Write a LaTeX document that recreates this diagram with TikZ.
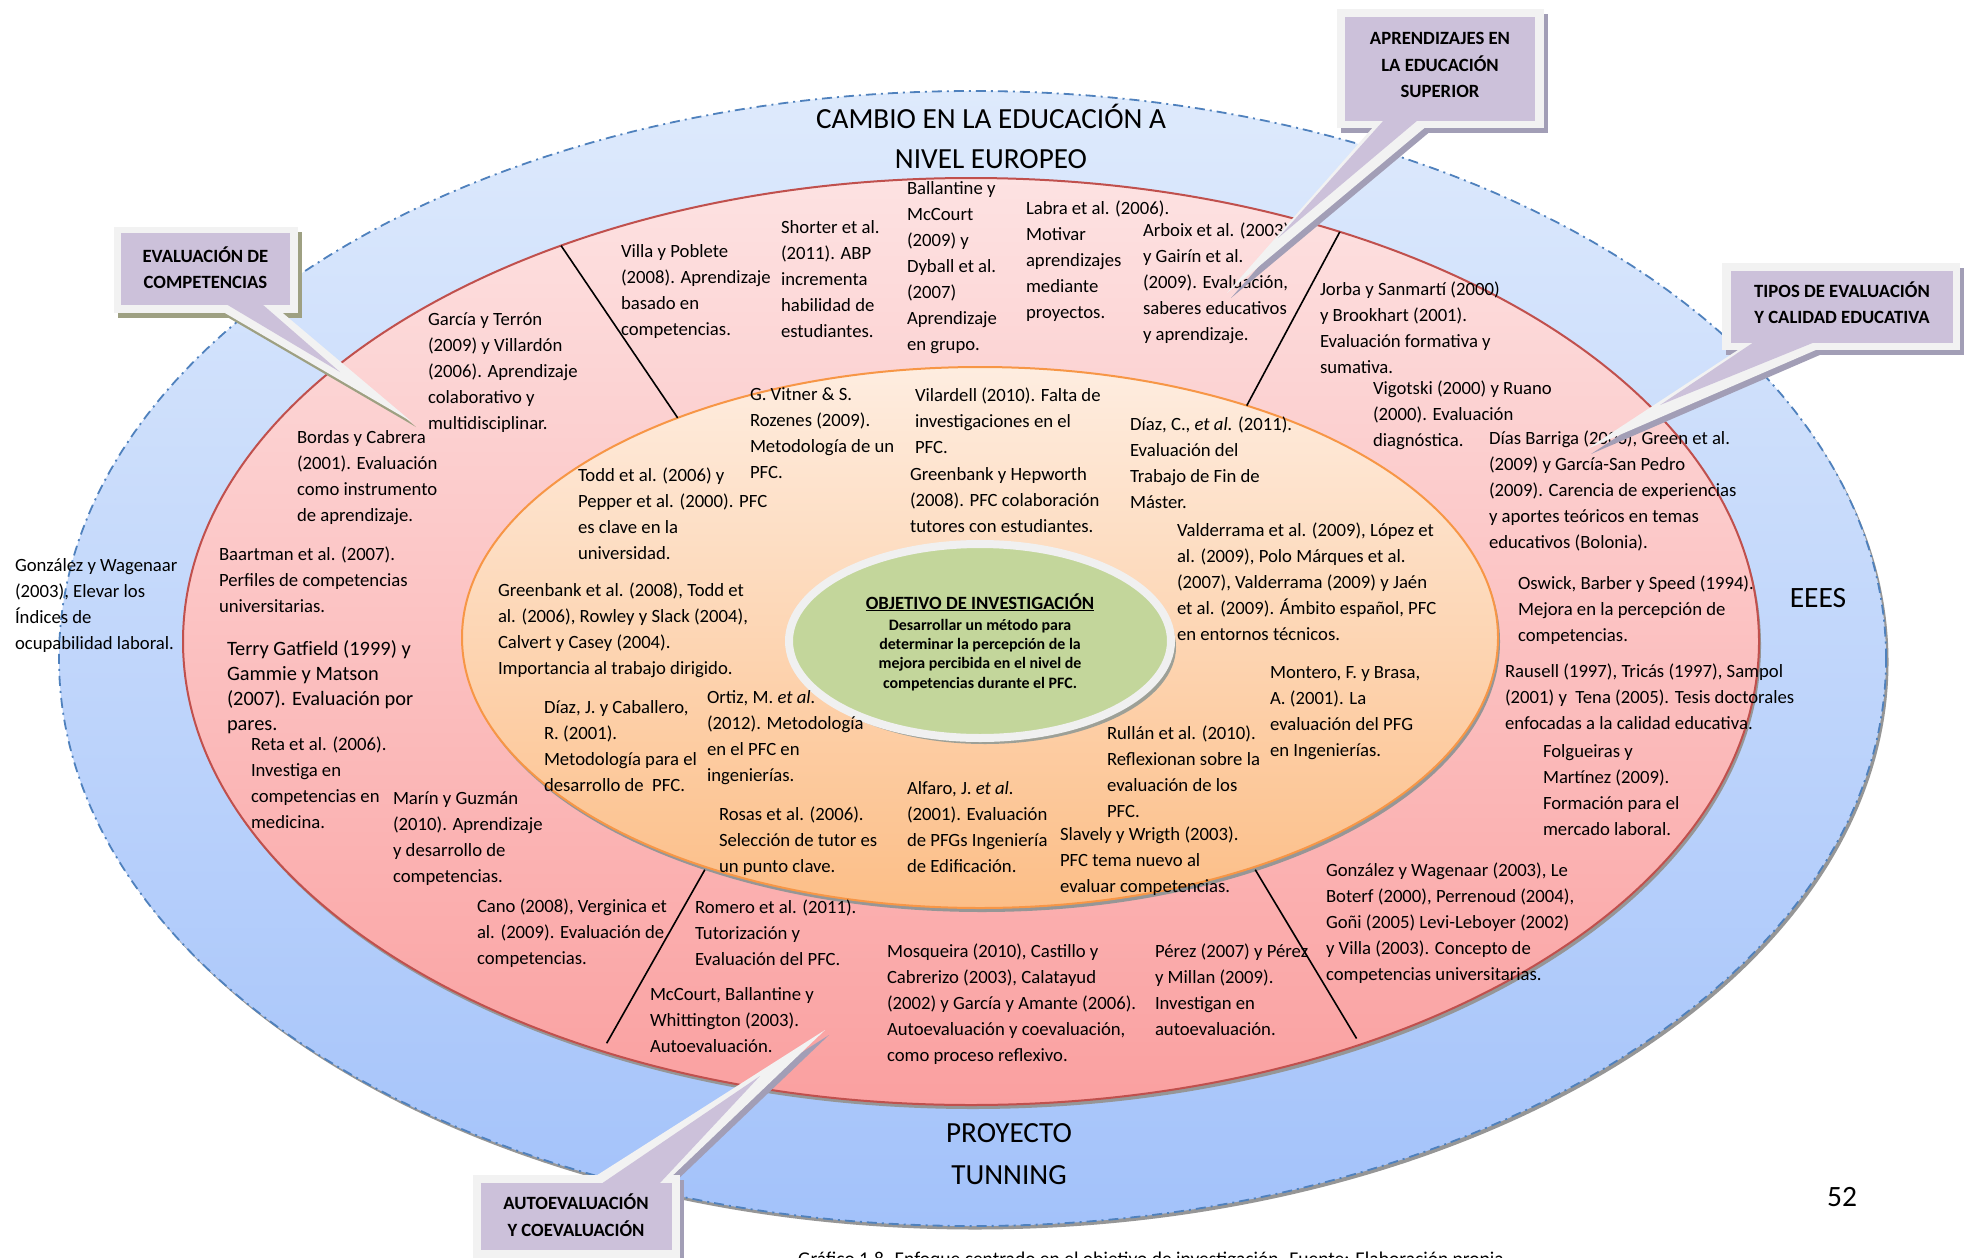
\documentclass[tikz,border=0pt]{standalone}
\usepackage{fontspec}
\setmainfont{Carlito}
\usetikzlibrary{shapes.geometric}

\definecolor{blueT}{RGB}{222,234,252}
\definecolor{blueB}{RGB}{163,194,250}
\definecolor{blueLine}{RGB}{79,129,189}
\definecolor{redT}{RGB}{253,226,226}
\definecolor{redB}{RGB}{250,160,160}
\definecolor{redLine}{RGB}{192,80,77}
\definecolor{orT}{RGB}{254,237,224}
\definecolor{orB}{RGB}{252,190,135}
\definecolor{orLine}{RGB}{247,150,70}
\definecolor{greenF}{RGB}{195,214,155}
\definecolor{greenEdge}{RGB}{240,240,240}
\definecolor{lav}{RGB}{204,193,218}
\definecolor{callEdge}{RGB}{242,242,242}
\definecolor{shOlive}{RGB}{158,160,130}
\definecolor{shPurple}{RGB}{162,158,182}
\definecolor{ovalShadow}{RGB}{150,150,150}

\tikzset{
  oval/.style={ellipse, inner sep=0pt, outer sep=0pt},
  ovalshade/.style={oval, fill=ovalShadow},
  body/.style={anchor=north west, inner sep=0pt, outer sep=0pt, align=left, text=black,
    font=\fontsize{18.7}{26}\selectfont, yshift=-8pt},
  bodybig/.style={body, font=\fontsize{20.4}{25}\selectfont},
  bigtitle/.style={anchor=north, align=center, inner sep=0pt,
    font=\fontsize{29.2}{40}\selectfont},
  divider/.style={black, line width=1.6pt},
  callwhite/.style={fill=callEdge},
  calllav/.style={fill=lav},
  calltext/.style={anchor=north, align=center, inner sep=0pt,
    font=\bfseries\fontsize{18.7}{26.5}\selectfont},
}

\begin{document}
\begin{tikzpicture}[x=1pt, y=-1pt]
\useasboundingbox (0,0) rectangle (1970,1258);
\fill[white] (0,0) rectangle (1970,1258);

% outer ring: EEES
\node[ovalshade, minimum width=1827pt, minimum height=1135pt] (eeesShadow) at (975,662) {};
\node[oval, minimum width=1827pt, minimum height=1135pt, top color=blueT, bottom color=blueB,
      draw=blueLine, line width=1.8pt, dash pattern=on 10pt off 5pt on 2pt off 5pt] (eees) at (972.5,658.5) {};

% middle ring: literature on competences
\node[ovalshade, minimum width=1576pt, minimum height=927pt] (ringShadow) at (973,645.5) {};
\node[oval, minimum width=1576pt, minimum height=927pt, top color=redT, bottom color=redB,
      draw=redLine, line width=2pt] (ring) at (971,641.5) {};

% inner ring: literature on the PFC
\node[ovalshade, minimum width=1036pt, minimum height=541pt] (coreShadow) at (982,641.5) {};
\node[oval, minimum width=1036pt, minimum height=541pt, top color=orT, bottom color=orB,
      draw=orLine, line width=2pt] (core) at (980,637.5) {};

% research objective
\node[oval, minimum width=382pt, minimum height=194pt, fill=ovalShadow!85!greenF] (objShadow) at (985,647) {};
\node[oval, minimum width=382pt, minimum height=194pt, fill=greenF, draw=greenEdge, line width=8pt] (obj) at (980,641) {};

% sector dividers
\draw[divider] (ring.136) -- (core.144);
\draw[divider] (ring.48) -- (core.41);
\draw[divider, shorten <=3pt, shorten >=9pt] (core.220) -- (ring.228);
\draw[divider, shorten <=3pt, shorten >=7pt] (core.320) -- (ring.314);

% centre text
\node[anchor=base, inner sep=0pt, font=\bfseries\fontsize{18.7}{22}\selectfont] (objHead) at (980,609)
  {\underline{OBJETIVO DE INVESTIGACIÓN}};
\node[anchor=north, align=center, inner sep=0pt, font=\bfseries\fontsize{15.9}{19.4}\selectfont] (objText) at (980,618.7)
  {Desarrollar un método para\\determinar la percepción de la\\mejora percibida en el nivel de\\competencias durante el PFC.};

% ring titles
\node[bigtitle] (tEurope) at (991,104.4) {CAMBIO EN LA EDUCACIÓN A\\NIVEL EUROPEO};
\node[bigtitle, font=\fontsize{29.2}{41.5}\selectfont] (tTuning) at (1009,1123.4) {PROYECTO\\TUNNING};
\node[inner sep=0pt, font=\fontsize{29.5}{32}\selectfont] (tEees) at (1818,598) {EEES};
\node[inner sep=0pt, font=\fontsize{29.5}{32}\selectfont] (pageNo) at (1842,1197) {52};

% middle ring references
\node[body] (r1) at (428,305) {García y Terrón\\(2009) y Villardón\\(2006). Aprendizaje\\colaborativo y\\multidisciplinar.};
\node[body] (r2) at (621,237) {Villa y Poblete\\(2008). Aprendizaje\\basado en\\competencias.};
\node[body] (r3) at (781,213) {Shorter et al.\\(2011). ABP\\incrementa\\habilidad de\\estudiantes.};
\node[body] (r4) at (907,174) {Ballantine y\\McCourt\\(2009) y\\Dyball et al.\\(2007)\\Aprendizaje\\en grupo.};
\node[body] (r5) at (1026,193) {Labra et al. (2006).\\Motivar\\aprendizajes\\mediante\\proyectos.};
\node[body] (r6) at (1143,215) {Arboix et al. (2003)\\y Gairín et al.\\(2009). Evaluación,\\saberes educativos\\y aprendizaje.};
\node[body] (r7) at (1320,274) {Jorba y Sanmartí (2000)\\y Brookhart (2001).\\Evaluación formativa y\\sumativa.};
\node[body] (r8) at (1373,373) {Vigotski (2000) y Ruano\\(2000). Evaluación\\diagnóstica.};
\node[body] (r9) at (1489,423) {Días Barriga (2006), Green et al.\\(2009) y García-San Pedro\\(2009). Carencia de experiencias\\y aportes teóricos en temas\\educativos (Bolonia).};
\node[body] (r10) at (1518,568) {Oswick, Barber y Speed (1994).\\Mejora en la percepción de\\competencias.};
\node[body] (r11) at (1505,656) {Rausell (1997), Tricás (1997), Sampol\\(2001) y\ \ Tena (2005). Tesis doctorales\\enfocadas a la calidad educativa.};
\node[body] (r12) at (1543,737) {Folgueiras y\\Martínez (2009).\\Formación para el\\mercado laboral.};
\node[body] (r13) at (1326,855) {González y Wagenaar (2003), Le\\Boterf (2000), Perrenoud (2004),\\Goñi (2005) Levi-Leboyer (2002)\\y Villa (2003). Concepto de\\competencias universitarias.};
\node[body] (r14) at (1155,936) {Pérez (2007) y Pérez\\y Millan (2009).\\Investigan en\\autoevaluación.};
\node[body] (r15) at (887,936) {Mosqueira (2010), Castillo y\\Cabrerizo (2003), Calatayud\\(2002) y García y Amante (2006).\\Autoevaluación y coevaluación,\\como proceso reflexivo.};
\node[body] (r16) at (695,892) {Romero et al. (2011).\\Tutorización y\\Evaluación del PFC.};
\node[body] (r17) at (650,980) {McCourt, Ballantine y\\Whittington (2003).\\Autoevaluación.};
\node[body] (r18) at (477,891) {Cano (2008), Verginica et\\al. (2009). Evaluación de\\competencias.};
\node[body] (r19) at (393,784) {Marín y Guzmán\\(2010). Aprendizaje\\y desarrollo de\\competencias.};
\node[body] (r20) at (251,729) {Reta et al. (2006).\\Investiga en\\competencias en\\medicina.};
\node[bodybig] (r21) at (227,633) {Terry Gatfield (1999) y\\Gammie y Matson\\(2007). Evaluación por\\pares.};
\node[body] (r22) at (219,539) {Baartman et al. (2007).\\Perfiles de competencias\\universitarias.};
\node[body] (r23) at (297,423) {Bordas y Cabrera\\(2001). Evaluación\\como instrumento\\de aprendizaje.};
\node[body] (r24) at (15,551) {González y Wagenaar\\(2003), Elevar los\\Índices de\\ocupabilidad laboral.};

% inner ring references
\node[body] (p1) at (750,380) {G. Vitner \& S.\\Rozenes (2009).\\Metodología de un\\PFC.};
\node[body] (p2) at (915,380) {Vilardell (2010). Falta de\\investigaciones en el\\PFC.};
\node[body] (p3) at (1130,409) {Díaz, C., \textit{et al.} (2011).\\Evaluación del\\Trabajo de Fin de\\Máster.};
\node[body] (p4) at (578,460) {Todd et al. (2006) y\\Pepper et al. (2000). PFC\\es clave en la\\universidad.};
\node[body] (p5) at (910,460) {Greenbank y Hepworth\\(2008). PFC colaboración\\tutores con estudiantes.};
\node[body] (p6) at (1177,515) {Valderrama et al. (2009), López et\\al. (2009), Polo Márques et al.\\(2007), Valderrama (2009) y Jaén\\et al. (2009). Ámbito español, PFC\\en entornos técnicos.};
\node[body] (p7) at (498,575) {Greenbank et al. (2008), Todd et\\al. (2006), Rowley y Slack (2004),\\Calvert y Casey (2004).\\Importancia al trabajo dirigido.};
\node[body] (p8) at (1270,658) {Montero, F. y Brasa,\\A. (2001). La\\evaluación del PFG\\en Ingenierías.};
\node[body] (p9) at (544,693) {Díaz, J. y Caballero,\\R. (2001).\\Metodología para el\\desarrollo de\ \ PFC.};
\node[body] (p10) at (707,683) {Ortiz, M. \textit{et al.}\\(2012). Metodología\\en el PFC en\\ingenierías.};
\node[body] (p11) at (1107,718) {Rullán et al. (2010).\\Reflexionan sobre la\\evaluación de los\\PFC.};
\node[body] (p12) at (907,774) {Alfaro, J. \textit{et al.}\\(2001). Evaluación\\de PFGs Ingeniería\\de Edificación.};
\node[body] (p13) at (719,799) {Rosas et al. (2006).\\Selección de tutor es\\un punto clave.};
\node[body] (p14) at (1060,819) {Slavely y Wrigth (2003).\\PFC tema nuevo al\\evaluar competencias.};

% callouts: shadow, white frame, white spike, lavender panel, lavender spike
\def\evalOuter{(114,227) rectangle (298,313)}
\def\evalSpike{(218,309) -- (412,422) -- (278,309) -- cycle}
\def\evalInner{(121,233) rectangle (290,305)}
\def\evalLav{(226,304) -- (340,372) -- (262,304) -- cycle}

\def\aprOuter{(1337,9) rectangle (1544,128)}
\def\aprSpike{(1375,125) -- (1227,293) -- (1428,125) -- cycle}
\def\aprInner{(1345,17) rectangle (1535,121)}
\def\aprLav{(1384,120) -- (1278,238) -- (1418,120) -- cycle}

\def\tipOuter{(1722,263) rectangle (1960,350)}
\def\tipSpike{(1744,346) -- (1587,449) -- (1825,346) -- cycle}
\def\tipInner{(1731,271) rectangle (1953,343)}
\def\tipLav{(1754,342) -- (1660,405) -- (1815,342) -- cycle}

\def\autOuter{(473,1175) rectangle (680,1262)}
\def\autSpike{(591,1179) -- (825,1030) -- (669,1179) -- cycle}
\def\autInner{(481,1183) rectangle (672,1250)}
\def\autLav{(601,1184) -- (760,1076) -- (659,1184) -- cycle}

\begin{scope}[shift={(4,5)}]
  \fill[shOlive] \evalOuter;  \fill[shOlive] \evalSpike;
  \fill[shPurple] \aprOuter;  \fill[shPurple] \aprSpike;
  \fill[shPurple] \tipOuter;  \fill[shPurple] \tipSpike;
  \fill[shPurple] \autOuter;  \fill[shPurple] \autSpike;
\end{scope}
\fill[callwhite] \evalOuter; \fill[callwhite] \evalSpike; \fill[calllav] \evalInner; \fill[calllav] \evalLav;
\fill[callwhite] \aprOuter;  \fill[callwhite] \aprSpike;  \fill[calllav] \aprInner;  \fill[calllav] \aprLav;
\fill[callwhite] \tipOuter;  \fill[callwhite] \tipSpike;  \fill[calllav] \tipInner;  \fill[calllav] \tipLav;
\fill[callwhite] \autOuter;  \fill[callwhite] \autSpike;  \fill[calllav] \autInner;  \fill[calllav] \autLav;

\node[calltext] (cEval) at (205.5,246.5) {EVALUACIÓN DE\\COMPETENCIAS};
\node[calltext] (cAprend) at (1440,32.5) {APRENDIZAJES EN\\LA EDUCACIÓN\\SUPERIOR};
\node[calltext] (cTipos) at (1842,281.5) {TIPOS DE EVALUACIÓN\\Y CALIDAD EDUCATIVA};
\node[calltext] (cAuto) at (576,1194) {AUTOEVALUACIÓN\\Y COEVALUACIÓN};

% caption, running off the lower edge of the page
\node[anchor=base west, inner sep=0pt, font=\fontsize{19.5}{22}\selectfont] (caption) at (798,1265)
  {Gráfico 1.8. Enfoque centrado en el objetivo de investigación. Fuente: Elaboración propia.};
\end{tikzpicture}
\end{document}
